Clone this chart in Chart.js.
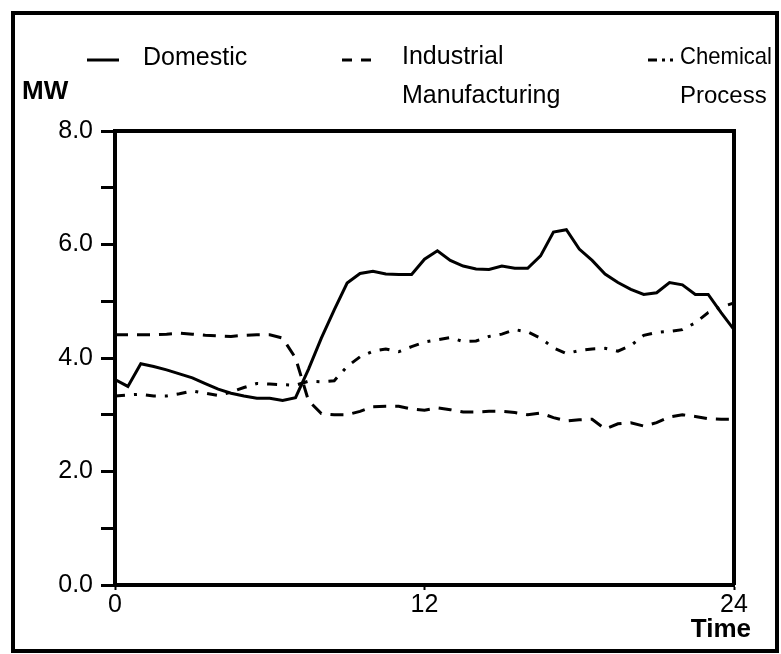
<!DOCTYPE html>
<html>
<head>
<meta charset="utf-8">
<script src="https://cdn.jsdelivr.net/npm/chart.js@4.4.1/dist/chart.umd.min.js"></script>
<style>
    body { margin: 0; background: #ffffff; }
    canvas { display: block; }
</style>
</head>
<body>
<canvas id="graficoCarga" width="781" height="654"></canvas>
<script>
const horas = [
    0, 0.5, 1, 1.5, 2, 2.5, 3, 3.5, 4, 4.5, 5, 5.5, 6, 6.5, 7, 7.5,
    8, 8.5, 9, 9.5, 10, 10.5, 11, 11.5, 12, 12.5, 13, 13.5, 14, 14.5, 15, 15.5,
    16, 16.5, 17, 17.5, 18, 18.5, 19, 19.5, 20, 20.5, 21, 21.5, 22, 22.5, 23, 23.5, 24
];

const domestico = [
    3.62, 3.50, 3.90, 3.85, 3.79, 3.72, 3.65, 3.55, 3.45, 3.38, 3.33, 3.29, 3.29, 3.25, 3.30, 3.80,
    4.35, 4.85, 5.32, 5.49, 5.53, 5.48, 5.47, 5.47, 5.74, 5.89, 5.72, 5.62, 5.57, 5.56, 5.62, 5.58,
    5.58, 5.80, 6.22, 6.26, 5.92, 5.72, 5.48, 5.33, 5.21, 5.12, 5.15, 5.33, 5.29, 5.12, 5.12, 4.80, 4.50
];

const industrial = [
    4.41, 4.41, 4.41, 4.41, 4.42, 4.44, 4.42, 4.40, 4.39, 4.38, 4.40, 4.41, 4.41, 4.35, 4.00, 3.25,
    3.02, 3.00, 3.00, 3.06, 3.14, 3.15, 3.15, 3.10, 3.08, 3.12, 3.09, 3.05, 3.05, 3.06, 3.06, 3.04,
    3.00, 3.03, 2.95, 2.89, 2.91, 2.92, 2.75, 2.84, 2.86, 2.80, 2.86, 2.96, 3.00, 2.97, 2.93, 2.92, 2.92
];

const quimico = [
    3.33, 3.35, 3.36, 3.33, 3.33, 3.37, 3.42, 3.38, 3.34, 3.40, 3.48, 3.55, 3.54, 3.53, 3.52, 3.59,
    3.58, 3.60, 3.85, 4.02, 4.12, 4.16, 4.11, 4.20, 4.28, 4.32, 4.36, 4.29, 4.30, 4.38, 4.42, 4.50,
    4.46, 4.35, 4.18, 4.08, 4.13, 4.16, 4.17, 4.12, 4.22, 4.40, 4.45, 4.47, 4.50, 4.62, 4.80, 4.90, 4.97
];

const nomes = ['Domestic', 'Industrial Manufacturing', 'Chemical Process'];
const ticksX = [0, 12, 24];

const tracoIndustrial = [13, 9];
const tracoQuimico = [10, 9, 3, 9];

function pontos(valores) {
    return horas.map((h, i) => ({ x: h, y: valores[i] }));
}

const fonte = '"Liberation Sans", Arial, Helvetica, sans-serif';

// moldura, legenda e textos soltos
const moldura = {
    id: 'moldura',
    afterDraw(chart) {
        const ctx = chart.ctx;
        const area = chart.chartArea;
        ctx.save();
        ctx.strokeStyle = '#000';
        ctx.lineWidth = 4;
        ctx.strokeRect(13, 13, 764, 638);

        ctx.beginPath();
        ctx.moveTo(area.left, area.top);
        ctx.lineTo(area.right, area.top);
        ctx.lineTo(area.right, area.bottom);
        ctx.stroke();

        ctx.fillStyle = '#000';
        ctx.textBaseline = 'middle';
        ctx.textAlign = 'left';
        ctx.font = '25px ' + fonte;

        ctx.lineWidth = 3;
        ctx.setLineDash([]);
        ctx.beginPath();
        ctx.moveTo(87, 60);
        ctx.lineTo(119, 60);
        ctx.stroke();
        ctx.fillText('Domestic', 143, 58);

        ctx.setLineDash([10, 9]);
        ctx.beginPath();
        ctx.moveTo(342, 60);
        ctx.lineTo(377, 60);
        ctx.stroke();
        ctx.fillText('Industrial', 402, 57);
        ctx.fillText('Manufacturing', 402, 96);

        ctx.setLineDash([9, 5, 3, 5, 3, 20]);
        ctx.beginPath();
        ctx.moveTo(648, 60);
        ctx.lineTo(674, 60);
        ctx.stroke();
        ctx.setLineDash([]);
        ctx.font = '24px ' + fonte;
        ctx.fillText('Chemical', 680, 57, 92);
        ctx.fillText('Process', 680, 96);

        ctx.font = 'bold 26px ' + fonte;
        ctx.fillText('MW', 22, 92);
        ctx.textAlign = 'right';
        ctx.fillText('Time', 751, 630);
        ctx.restore();
    }
};

const data = {
    datasets: [
        {
            label: nomes[0],
            data: pontos(domestico),
            borderColor: '#000',
            borderWidth: 3,
            pointRadius: 0,
            tension: 0,
        },
        {
            label: nomes[1],
            data: pontos(industrial),
            borderColor: '#000',
            borderWidth: 3,
            borderDash: tracoIndustrial,
            pointRadius: 0,
            tension: 0,
        },
        {
            label: nomes[2],
            data: pontos(quimico),
            borderColor: '#000',
            borderWidth: 3,
            borderDash: tracoQuimico,
            pointRadius: 0,
            tension: 0,
        },
    ]
};

const config = {
    type: 'line',
    data: data,
    options: {
        responsive: false,
        animation: false,
        layout: {
            padding: { left: 0, top: 131, right: 47, bottom: 0 }
        },
        plugins: {
            legend: { display: false },
            tooltip: { enabled: false },
        },
        scales: {
            x: {
                type: 'linear',
                min: 0,
                max: 24,
                afterFit(scale) { scale.height = 69; },
                afterBuildTicks(scale) {
                    scale.ticks = ticksX.map(v => ({ value: v }));
                },
                border: { display: true, color: '#000', width: 4 },
                grid: {
                    drawOnChartArea: false,
                    drawTicks: true,
                    tickLength: 5,
                    tickWidth: 2,
                    tickColor: '#000',
                },
                ticks: {
                    padding: 0,
                    color: '#000',
                    maxRotation: 0,
                    autoSkip: false,
                    font: { family: fonte, size: 25 },
                    callback: (v) => String(v),
                },
            },
            y: {
                min: 0,
                max: 8,
                afterFit(scale) { scale.width = 115; },
                border: { display: true, color: '#000', width: 4 },
                grid: {
                    drawOnChartArea: false,
                    drawTicks: true,
                    tickLength: 14,
                    tickWidth: 3,
                    tickColor: '#000',
                },
                ticks: {
                    stepSize: 1,
                    padding: 8,
                    color: '#000',
                    autoSkip: false,
                    font: { family: fonte, size: 25 },
                    callback: (v) => (v % 2 === 0 ? v.toFixed(1) : ''),
                },
            },
        },
    },
    plugins: [moldura],
};

new Chart(document.getElementById('graficoCarga'), config);
</script>
</body>
</html>
